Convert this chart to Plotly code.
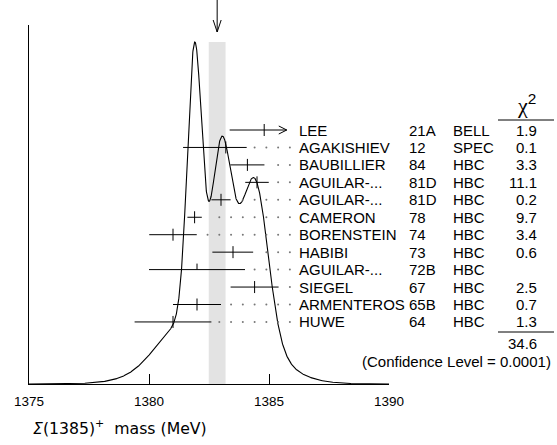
import numpy as np
import plotly.graph_objects as go

# ---------------- data ----------------
authors = ["LEE", "AGAKISHIEV", "BAUBILLIER", "AGUILAR-...", "AGUILAR-...", "CAMERON",
           "BORENSTEIN", "HABIBI", "AGUILAR-...", "SIEGEL", "ARMENTEROS", "HUWE"]
years = ["21A", "12", "84", "81D", "81D", "78", "74", "73", "72B", "67", "65B", "64"]
techs = ["BELL", "SPEC", "HBC", "HBC", "HBC", "HBC", "HBC", "HBC", "HBC", "HBC", "HBC", "HBC"]
chi2 = ["1.9", "0.1", "3.3", "11.1", "0.2", "9.7", "3.4", "0.6", "", "2.5", "0.7", "1.3"]
mass = [1384.8, 1383.2, 1384.1, 1384.5, 1383.0, 1381.9, 1381.0, 1383.5, 1382.0, 1384.4, 1382.0, 1381.0]
err_lo = [1.44, 1.78, 0.71, 0.49, 0.40, 0.30, 0.99, 0.86, 2.0, 1.0, 1.0, 1.6]
err_hi = [1.44, 0.87, 0.71, 0.49, 0.40, 0.30, 0.99, 0.84, 2.0, 1.0, 1.0, 1.6]
used = [True, True, True, True, True, True, True, True, False, True, True, True]
chi2_total = "34.6"
conf_level = "(Confidence Level = 0.0001)"
avg_mass = 1382.84
avg_err = 0.35
x_ticks = [1375, 1380, 1385, 1390]
x_title = "<i>Σ</i>(1385)<sup>+</sup>  mass (MeV)"

# ---------------- geometry / style ----------------
W, H = 557, 445
ML, MR, MT, MB = 29, 168, 25, 61
PW = W - ML - MR          # plot width in px
PH = H - MT - MB          # plot height in px
X0, X1 = 1375, 1390
ROW0_PX, ROW_STEP_PX = 130.0, 17.45
PEAK_FRAC = (MT + PH - 42) / PH  # curve maximum reaches pixel 42
FONT = "Liberation Sans, Arial, sans-serif"
DOT_END, DOT_STEP, DOT_GAP = 1385.87, 0.49, 0.3
BAR_LIMIT = 1385.74       # error bars are cut (with an arrow) before the labels

px_per_mev = PW / (X1 - X0)
row_per_px = 1.0 / ROW_STEP_PX
y2_top = (MT - ROW0_PX) / ROW_STEP_PX
y2_bot = (MT + PH - ROW0_PX) / ROW_STEP_PX


def paper_x(px):
    return (px - ML) / PW


def paper_y(py):
    return (MT + PH - py) / PH


rows = list(range(len(authors)))

# ---------------- ideogram curve ----------------
xs = np.linspace(X0, X1, 2001)
curve = np.zeros_like(xs)
for m, lo, hi, u in zip(mass, err_lo, err_hi, used):
    if not u:
        continue
    s_avg = 0.5 * (lo + hi)
    s = np.where(xs < m, lo, hi)
    curve += (1.0 / s_avg ** 2) * np.exp(-0.5 * ((xs - m) / s) ** 2)
cmax = curve.max()

fig = go.Figure()

# grey band for average
fig.add_shape(type="rect", xref="x", yref="y", x0=avg_mass - avg_err, x1=avg_mass + avg_err,
              y0=0, y1=cmax, fillcolor="#e3e3e3", line=dict(width=0), layer="below")

fig.add_trace(go.Scatter(x=xs, y=curve, mode="lines", line=dict(color="black", width=1.1),
                         hoverinfo="skip", yaxis="y"))

# error bars
ex, ey = [], []
tx, ty = [], []
ax_, ay_ = [], []
tick_h = 6 * row_per_px
for k, m, lo, hi in zip(rows, mass, err_lo, err_hi):
    right = min(m + hi, BAR_LIMIT)
    ex += [m - lo, right, None]
    ey += [k, k, None]
    if m + hi > BAR_LIMIT:
        back = 8 / px_per_mev
        ax_ += [right - back, right, right - back, None]
        ay_ += [k - 4 * row_per_px, k, k + 4 * row_per_px, None]
for k, m, u in zip(rows, mass, used):
    tx += [m, m, None]
    ty += [k - tick_h, (k + tick_h) if u else k, None]
fig.add_trace(go.Scatter(x=ex, y=ey, mode="lines", line=dict(color="black", width=1),
                         yaxis="y2", hoverinfo="skip"))
fig.add_trace(go.Scatter(x=tx, y=ty, mode="lines", line=dict(color="black", width=1),
                         yaxis="y2", hoverinfo="skip"))
fig.add_trace(go.Scatter(x=ax_, y=ay_, mode="lines", line=dict(color="black", width=1),
                         yaxis="y2", hoverinfo="skip"))

# dotted leaders
dx, dy = [], []
for k, m, hi in zip(rows, mass, err_hi):
    p = DOT_END
    while p >= m + hi + DOT_GAP:
        dx.append(p)
        dy.append(k)
        p -= DOT_STEP
fig.add_trace(go.Scatter(x=dx, y=dy, mode="markers", yaxis="y2", hoverinfo="skip",
                         marker=dict(size=2, color="#777777", line=dict(width=0))))

# top arrow marking the average
axp = paper_x(ML + (avg_mass - X0) * px_per_mev)
arm = 4 / PW
for (xa, ya, xb, yb) in [(axp, paper_y(0), axp, paper_y(32)),
                         (axp - arm, paper_y(20), axp, paper_y(32)),
                         (axp + arm, paper_y(20), axp, paper_y(32))]:
    fig.add_shape(type="line", xref="paper", yref="paper", x0=xa, y0=ya, x1=xb, y1=yb,
                  line=dict(color="black", width=1))

# text columns
ann = []
tfont = dict(family=FONT, size=15, color="black")
for k in rows:
    ann.append(dict(x=paper_x(297), y=k, xref="paper", yref="y2", text=authors[k],
                    xanchor="left", yanchor="middle", showarrow=False, font=tfont))
    ann.append(dict(x=paper_x(407), y=k, xref="paper", yref="y2", text=years[k],
                    xanchor="left", yanchor="middle", showarrow=False, font=tfont))
    ann.append(dict(x=paper_x(451), y=k, xref="paper", yref="y2", text=techs[k],
                    xanchor="left", yanchor="middle", showarrow=False, font=tfont))
    if chi2[k]:
        ann.append(dict(x=paper_x(539), y=k, xref="paper", yref="y2", text=chi2[k],
                        xanchor="right", yanchor="middle", showarrow=False, font=tfont))
ann.append(dict(x=paper_x(539), y=paper_y(343), xref="paper", yref="paper", text=chi2_total,
                xanchor="right", yanchor="middle", showarrow=False, font=tfont))
ann.append(dict(x=paper_x(553), y=paper_y(361), xref="paper", yref="paper", text=conf_level,
                xanchor="right", yanchor="middle", showarrow=False, font=tfont))
ann.append(dict(x=paper_x(526), y=paper_y(120), xref="paper", yref="paper",
                text="<span style='font-family:Liberation Serif'>χ</span><sup>2</sup>",
                xanchor="center", yanchor="bottom", showarrow=False,
                font=dict(family=FONT, size=22, color="black")))
ann.append(dict(x=paper_x(31), y=paper_y(427), xref="paper", yref="paper", text=x_title,
                xanchor="left", yanchor="middle", showarrow=False,
                font=dict(family="DejaVu Sans, sans-serif", size=15.7, color="black")))
for yy in (120, 332):
    fig.add_shape(type="line", xref="paper", yref="paper", x0=paper_x(498), x1=paper_x(554),
                  y0=paper_y(yy), y1=paper_y(yy), line=dict(color="black", width=1))

fig.update_layout(
    width=W, height=H, margin=dict(l=ML, r=MR, t=MT, b=MB),
    plot_bgcolor="white", paper_bgcolor="white", showlegend=False,
    annotations=ann,
    xaxis=dict(range=[X0, X1], tickvals=x_ticks, ticktext=[str(v) for v in x_ticks],
               ticks="inside", ticklen=10, tickcolor="black", tickwidth=1,
               showline=True, linecolor="black", linewidth=1, showgrid=False, zeroline=False,
               tickfont=dict(family=FONT, size=13.5, color="black"), ticklabelstandoff=5),
    yaxis=dict(range=[0, cmax / PEAK_FRAC], showline=True, linecolor="black", linewidth=1,
               showticklabels=False, ticks="", showgrid=False, zeroline=False),
    yaxis2=dict(range=[y2_bot, y2_top], overlaying="y", visible=False),
)

fig.write_html("out.html", post_script="document.body.style.margin='0';",
               config={"displayModeBar": False})
